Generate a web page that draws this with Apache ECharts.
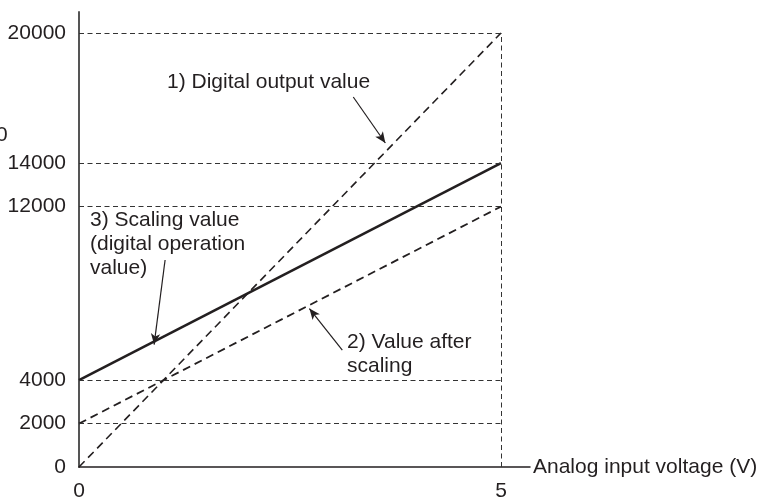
<!DOCTYPE html>
<html>
<head>
<meta charset="utf-8">
<script src="https://cdn.jsdelivr.net/npm/echarts@6/dist/echarts.min.js"></script>
<style>
  html, body { margin: 0; padding: 0; background: #fff; }
  #chart { width: 765px; height: 497px; }
</style>
</head>
<body>
<div id="chart"></div>
<script>
// valores
const voltage = [0, 5];
const digitalOutput = [0, 20000];
const valueAfterScaling = [2000, 12000];
const scalingValue = [4000, 14000];
const yTickLabels = [0, 2000, 4000, 12000, 14000, 20000];
const xTickLabels = [0, 5];
const guideLevels = [2000, 4000, 12000, 14000, 20000];
// flechas de las notas: [inicio, punta] en unidades del grafico
const arrowDigital = [[3.25, 17050], [3.63, 14930]];
const arrowScaling = [[1.02, 9540], [0.89, 5640]];
const arrowAfter = [[3.12, 5390], [2.73, 7300]];

const ink = '#231f20';
const font = '"Liberation Sans", Arial, sans-serif';

const toPairs = (ys) => voltage.map((v, i) => [v, ys[i]]);

let myChart = echarts.init(document.getElementById('chart'));

const guideLines = guideLevels.map(v => [{ coord: [0, v] }, { coord: [5, v] }]);
guideLines.push([{ coord: [5, 0] }, { coord: [5, 20000] }]);

const arrowLine = (a) => [
  { coord: a[0], symbol: 'none' },
  { coord: a[1], symbol: 'arrow', symbolSize: [7, 11] }
];

const option = {
  animation: false,
  grid: { left: 79, right: 235, top: 12, bottom: 30, outerBoundsMode: 'none' },
  xAxis: {
    type: 'value',
    min: 0,
    max: 5.344,
    interval: 1,
    name: 'Analog input voltage (V)',
    nameLocation: 'end',
    nameGap: 3,
    nameTextStyle: { color: ink, fontSize: 21, fontFamily: font },
    axisLine: { lineStyle: { color: ink, width: 1.5 } },
    axisTick: { show: false },
    splitLine: { show: false },
    axisLabel: {
      color: ink, fontSize: 21, fontFamily: font, margin: 14,
      showMaxLabel: false,
      formatter: (v) => xTickLabels.includes(v) ? String(v) : ''
    }
  },
  yAxis: {
    type: 'value',
    min: 0,
    max: 20968,
    interval: 1000,
    axisLine: { show: true, lineStyle: { color: '#555', width: 2 } },
    axisTick: { show: false },
    splitLine: { show: false },
    axisLabel: {
      color: ink, fontSize: 21, fontFamily: font, margin: 13,
      showMaxLabel: false,
      formatter: (v) => yTickLabels.includes(v) ? String(v) : ''
    }
  },
  series: [
    {
      name: 'guides',
      type: 'line',
      data: [],
      silent: true,
      markLine: {
        silent: true,
        symbol: ['none', 'none'],
        label: { show: false },
        lineStyle: { color: '#333', width: 1, type: [5, 3.5] },
        data: guideLines
      }
    },
    {
      name: '1) Digital output value',
      type: 'line',
      data: toPairs(digitalOutput),
      showSymbol: false,
      lineStyle: { color: ink, width: 1.6, type: [8, 5] },
      z: 3
    },
    {
      name: '2) Value after scaling',
      type: 'line',
      data: toPairs(valueAfterScaling),
      showSymbol: false,
      lineStyle: { color: ink, width: 1.8, type: [8, 5] },
      z: 3
    },
    {
      name: '3) Scaling value',
      type: 'line',
      data: toPairs(scalingValue),
      showSymbol: false,
      lineStyle: { color: ink, width: 2.6 },
      z: 4
    },
    {
      name: 'arrows',
      type: 'line',
      data: [],
      silent: true,
      markLine: {
        silent: true,
        symbol: ['none', 'arrow'],
        symbolSize: 10,
        label: { show: false },
        itemStyle: { color: ink },
        lineStyle: { color: ink, width: 1.2, type: 'solid' },
        data: [arrowLine(arrowDigital), arrowLine(arrowScaling), arrowLine(arrowAfter)]
      }
    }
  ],
  graphic: [
    { type: 'text', x: -4, y: 135, style: { text: '0', fill: ink, font: '21px ' + font, verticalAlign: 'middle' } },
    { type: 'text', x: 167, y: 82, style: { text: '1) Digital output value', fill: ink, font: '21px ' + font, verticalAlign: 'middle' } },
    { type: 'text', x: 90, y: 208, style: { text: '3) Scaling value\n(digital operation\nvalue)', fill: ink, font: '21px ' + font, lineHeight: 24 } },
    { type: 'text', x: 347, y: 330, style: { text: '2) Value after\nscaling', fill: ink, font: '21px ' + font, lineHeight: 24 } }
  ]
};
myChart.setOption(option);
</script>
</body>
</html>
